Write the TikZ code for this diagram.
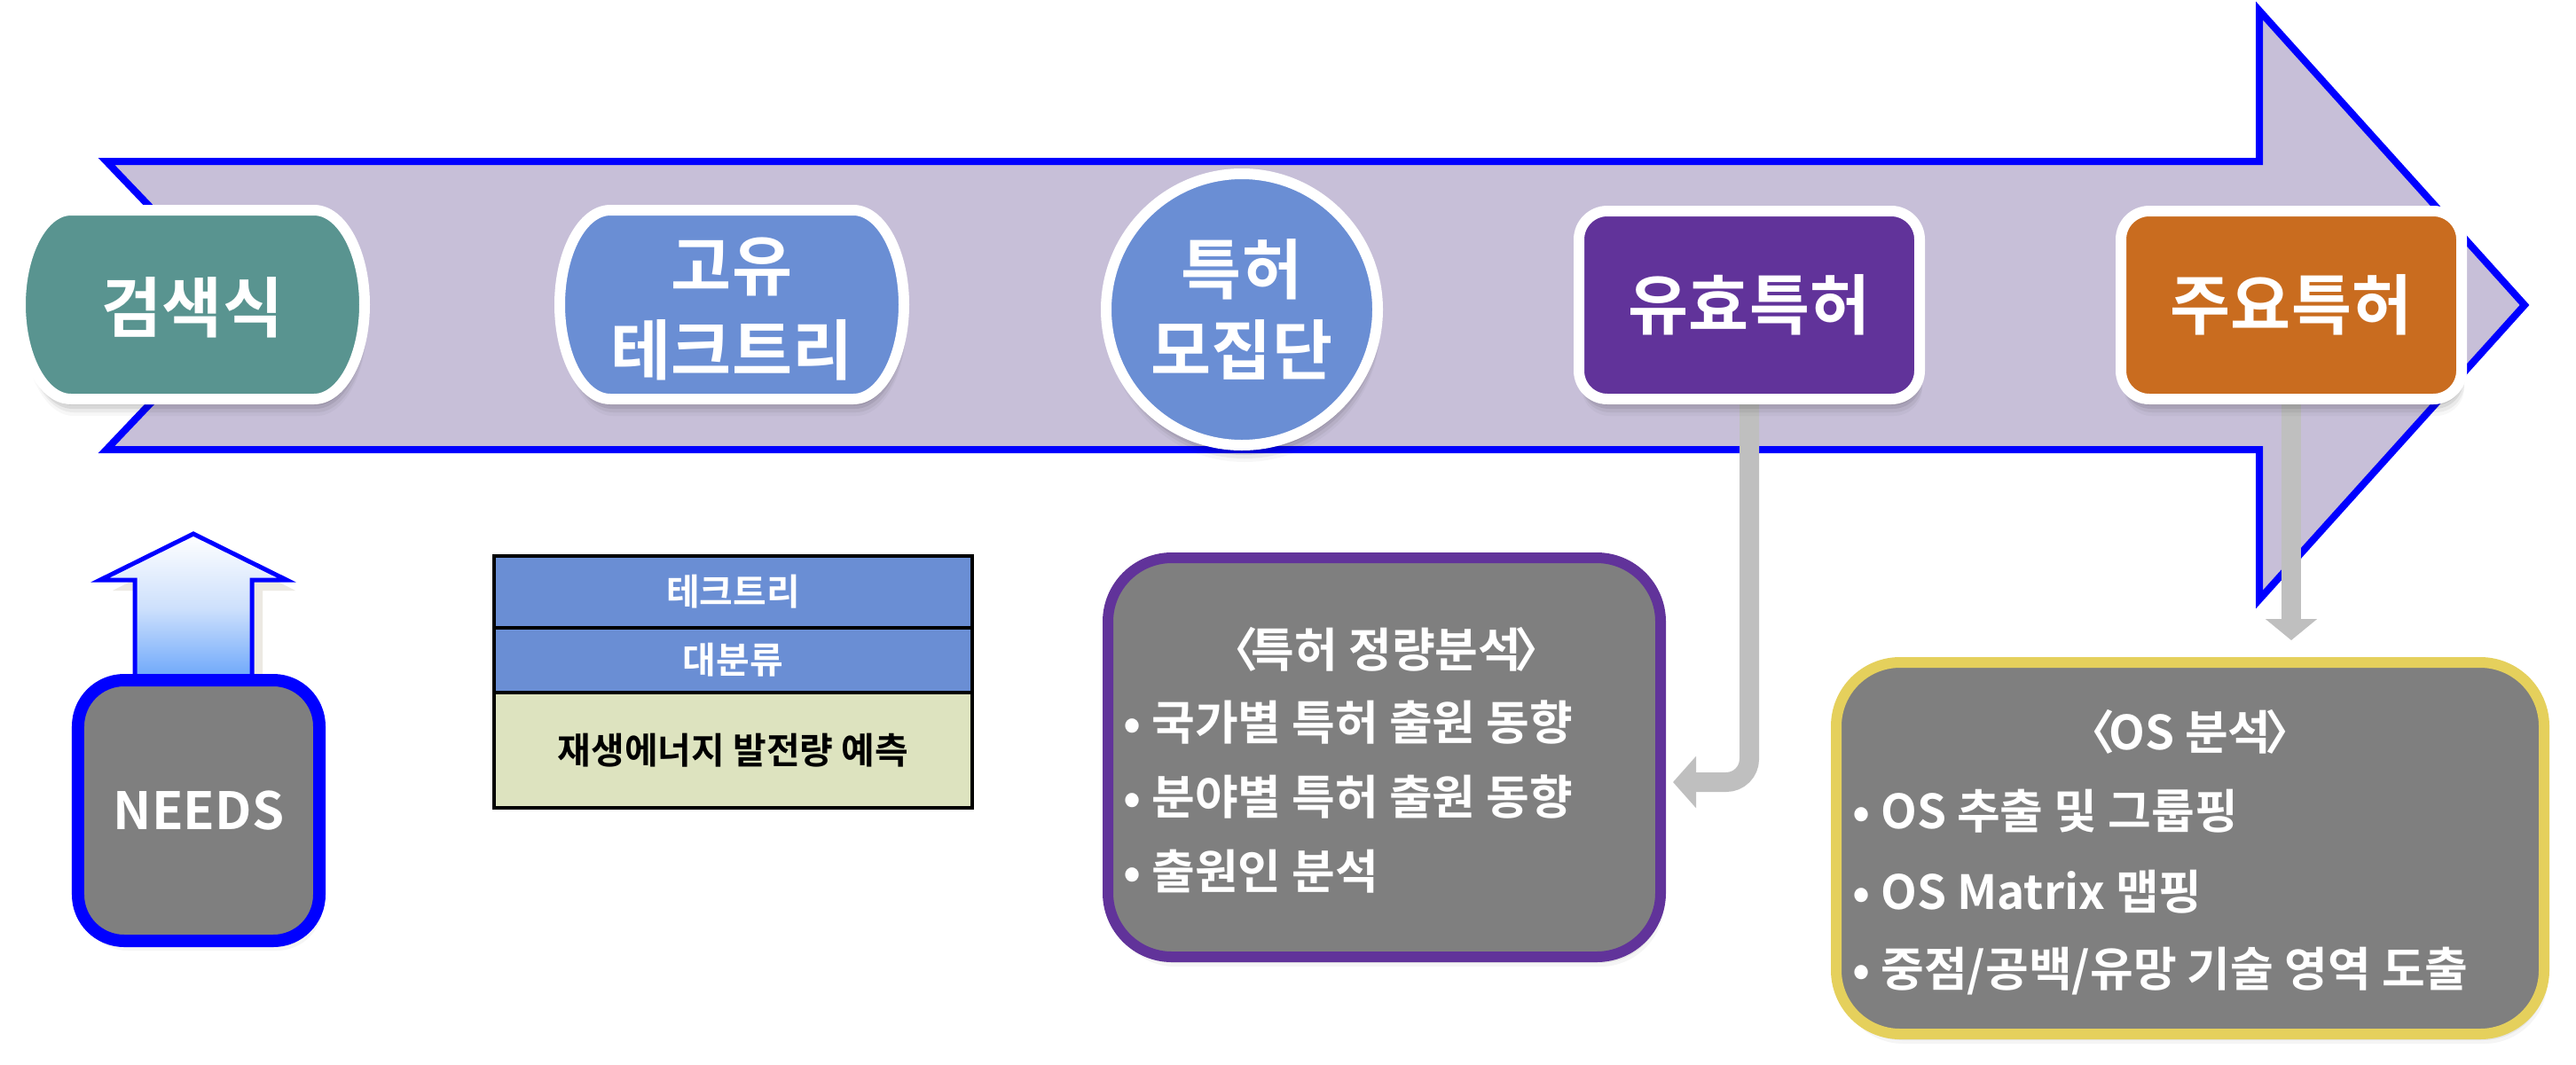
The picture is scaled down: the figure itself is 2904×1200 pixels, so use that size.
\documentclass[tikz,border=0pt]{standalone}
\usepackage{fontspec}
\setmainfont{Noto Sans CJK KR}[BoldFont={* Bold}]
\usetikzlibrary{arrows.meta,shadows,calc}
\pgfdeclarelayer{back}\pgfdeclarelayer{mid}
\pgfsetlayers{back,mid,main}
\definecolor{lav}{RGB}{199,191,216}
\definecolor{teal}{RGB}{89,148,144}
\definecolor{sky}{RGB}{106,142,212}
\definecolor{purp}{RGB}{97,51,154}
\definecolor{orng}{RGB}{201,108,31}
\definecolor{gry}{RGB}{127,127,127}
\definecolor{conngray}{RGB}{191,191,191}
\definecolor{yell}{RGB}{229,208,92}
\definecolor{tabgreen}{RGB}{221,227,191}
\definecolor{pureblue}{RGB}{0,0,255}
\definecolor{arrowblue}{RGB}{102,163,250}
\definecolor{arrowmid}{RGB}{205,224,252}
\definecolor{beigeshadow}{RGB}{236,233,226}
\newcommand{\barrelpath}[6]{%
 ({#1+#5},#2) -- ({#3-#5},#2)
 .. controls ({#3-#5+0.5523*#5},#2) and (#3,{#2+#6-0.5523*#6}) .. (#3,{#2+#6})
 -- (#3,{#4-#6})
 .. controls (#3,{#4-#6+0.5523*#6}) and ({#3-#5+0.5523*#5},#4) .. ({#3-#5},#4)
 -- ({#1+#5},#4)
 .. controls ({#1+#5-0.5523*#5},#4) and (#1,{#4-#6+0.5523*#6}) .. (#1,{#4-#6})
 -- (#1,{#2+#6})
 .. controls (#1,{#2+#6-0.5523*#6}) and ({#1+#5-0.5523*#5},#2) .. ({#1+#5},#2) -- cycle}
\newcommand{\lbr}{〈\kern-0.14em}
\newcommand{\rbr}{\kern-0.14em〉}
\begin{document}
\begin{tikzpicture}[x=1bp,y=-1bp,
  softshadow/.style={
    drop shadow={shadow xshift=1bp, shadow yshift=-3bp, opacity=0.10, fill=black},
    drop shadow={shadow xshift=2bp, shadow yshift=-7bp, opacity=0.09, fill=black},
    drop shadow={shadow xshift=2bp, shadow yshift=-11bp, opacity=0.07, fill=black},
    drop shadow={shadow xshift=3bp, shadow yshift=-15bp, opacity=0.05, fill=black},
    drop shadow={shadow xshift=3bp, shadow yshift=-19bp, opacity=0.03, fill=black}},
  lightshadow/.style={
    drop shadow={shadow xshift=2bp, shadow yshift=-3bp, opacity=0.08, fill=black},
    drop shadow={shadow xshift=3bp, shadow yshift=-7bp, opacity=0.06, fill=black},
    drop shadow={shadow xshift=4bp, shadow yshift=-11bp, opacity=0.04, fill=black}},
  bigtxt/.style={text=white, font=\bfseries\fontsize{74bp}{95bp}\selectfont, align=center, inner sep=0pt},
  stagebox/.style={draw=white, line width=12bp, rounded corners=32bp, minimum width=384bp, minimum height=212bp, inner sep=0pt, softshadow, text=white, font=\bfseries\fontsize{74bp}{95bp}\selectfont},
  infobox/.style={line width=12bp, fill=gry, rounded corners=72bp, inner sep=0pt, lightshadow},
  infotxt/.style={text=white, font=\bfseries\fontsize{53bp}{60bp}\selectfont, inner sep=0pt},
  conn/.style={draw=conngray, line width=22bp, rounded corners=26bp},
  tabrow/.style={draw=black, line width=4bp, minimum width=539bp, inner sep=0pt, font=\bfseries\fontsize{41bp}{48bp}\selectfont}
]
\useasboundingbox (0,0) rectangle (2904,1200);

% big process arrow
\begin{pgfonlayer}{back}
\fill[white] (0,0) rectangle (2904,1200);
\draw[draw=pureblue, fill=lav, line width=8bp, miter limit=10]
  (120,182) -- (2547,182) -- (2547,12) -- (2846,344) -- (2547,676) -- (2547,507)
  -- (120,507) -- (275,344) -- cycle;
\end{pgfonlayer}

% stage shapes
\draw[draw=white, line width=12bp, fill=teal, softshadow] \barrelpath{23}{237}{411}{450}{57}{106.5};
\node[bigtxt] (search) at (217,347) {검색식};

\draw[draw=white, line width=12bp, fill=sky, softshadow] \barrelpath{631}{237}{1019}{450}{57}{106.5};
\node[bigtxt] (tree) at (825,348) {고유\\테크트리};

\node[circle, draw=white, line width=12bp, fill=sky, minimum size=306bp, inner sep=0pt, softshadow,
      text=white, font=\bfseries\fontsize{74bp}{91bp}\selectfont, align=center] (pool) at (1400,349) {특허\\모집단};

\node[stagebox, fill=purp] (valid) at (1972,344) {유효특허};
\node[stagebox, fill=orng] (major) at (2583,344) {주요특허};

% analysis boxes
\node[infobox, draw=purp, minimum width=623bp, minimum height=450bp] (quant) at (1560.5,854) {};
\node[infotxt] (qtitle) at (1563,732) {\lbr 특허 정량분석\rbr};
\node[infotxt, anchor=west] (q1) at (1266,815) {• 국가별 특허 출원 동향};
\node[infotxt, anchor=west] (q2) at (1266,899) {• 분야별 특허 출원 동향};
\node[infotxt, anchor=west] (q3) at (1266,983) {• 출원인 분석};

\node[infobox, draw=yell, minimum width=798bp, minimum height=419bp] (os) at (2469,956.5) {};
\node[infotxt] (ostitle) at (2469,825) {\lbr OS 분석\rbr};
\node[infotxt, anchor=west] (o1) at (2088,915) {• OS 추출 및 그룹핑};
\node[infotxt, anchor=west] (o2) at (2088,1006) {• OS Matrix 맵핑};
\node[infotxt, anchor=west] (o3) at (2088,1095) {• 중점/공백/유망 기술 영역 도출};

% connectors
\coordinate (qend) at (1886,882);
\coordinate (jend) at (2583,722);
\begin{pgfonlayer}{mid}
\draw[conn, -{Triangle[length=26bp, width=57bp]}] (valid.south) |- (qend);
\draw[conn, -{Triangle[length=24bp, width=57bp]}] (major.south) -- (jend);
\end{pgfonlayer}

% NEEDS
\node[draw=pureblue, line width=14bp, fill=gry, rounded corners=52bp, minimum width=272bp, minimum height=294bp, inner sep=0pt,
      lightshadow, text=white, font=\bfseries\fontsize{58bp}{64bp}\selectfont] (needs) at (224,914) {NEEDS};
\begin{pgfonlayer}{mid}
\fill[beigeshadow] (164,770) -- (164,666) -- (127,666) -- (230,614) -- (333,666) -- (296,666) -- (296,770) -- cycle;
\draw[draw=pureblue, line width=5bp, top color=white, bottom color=arrowblue, middle color=arrowmid]
  (152,770) -- (152,654) -- (113,654) -- (218,602) -- (323,654) -- (284,654) -- (284,770) -- cycle;
\end{pgfonlayer}

% table
\node[tabrow, fill=sky, minimum height=81bp, text=white] (t1) at (826.5,667.5) {테크트리};
\node[tabrow, fill=sky, minimum height=73bp, text=white] (t2) at (826.5,744.5) {대분류};
\node[tabrow, fill=tabgreen, minimum height=130bp, text=black] (t3) at (826.5,846) {재생에너지 발전량 예측};
\end{tikzpicture}
\end{document}
